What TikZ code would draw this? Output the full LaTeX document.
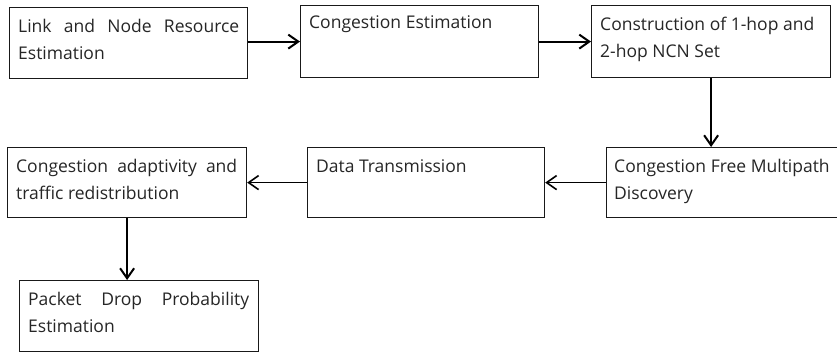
\documentclass[tikz,border=0pt]{standalone}
\usepackage{fontspec}
\setmainfont{Open Sans}
\usetikzlibrary{arrows.meta}
\tikzset{
  box/.style={draw=black!90, line width=1.2pt, fill=white, anchor=north west, inner sep=0pt},
  txt/.style={text=black!85, font=\fontsize{17.5}{27}\selectfont, align=justify, inner sep=0pt, anchor=base west, text width=221pt},
  thickarrow/.style={line width=2pt, -{Straight Barb[length=10pt,width=14pt,line width=2pt]}},
  thinarrow/.style={line width=1pt, -{Straight Barb[length=10pt,width=14pt,line width=1.6pt]}}
}
\begin{document}
\begin{tikzpicture}[x=1pt,y=-1pt]
\useasboundingbox (0,0) rectangle (837,353);
% boxes
\node[box, minimum width=238pt, minimum height=71pt] (b1) at (9,7) {};
\node[box, minimum width=238pt, minimum height=72pt] (b2) at (300,5) {};
\node[box, minimum width=239pt, minimum height=72pt] (b3) at (591,5) {};
\node[box, minimum width=262pt, minimum height=70pt] (b4) at (606,147) {};
\node[box, minimum width=237pt, minimum height=70pt] (b5) at (307,147) {};
\node[box, minimum width=239pt, minimum height=70pt] (b6) at (7,147) {};
\node[box, minimum width=239pt, minimum height=71pt] (b7) at (19,280) {};
% texts
\node[txt] (t1) at ([shift={(9pt,-26pt)}]b1.north west) {Link and Node Resource\linebreak Estimation};
\node[txt] (t2) at ([shift={(9pt,-24pt)}]b2.north west) {Congestion Estimation};
\node[txt] (t3) at ([shift={(9pt,-26pt)}]b3.north west) {Construction of 1-hop and\\2-hop NCN Set};
\node[txt] (t4) at ([shift={(8pt,-25pt)}]b4.north west) {Congestion Free Multipath\\Discovery};
\node[txt] (t5) at ([shift={(9pt,-25pt)}]b5.north west) {Data Transmission};
\node[txt] (t6) at ([shift={(9pt,-25pt)}]b6.north west) {Congestion adaptivity and\linebreak traffic redistribution};
\node[txt] (t7) at ([shift={(9pt,-25pt)}]b7.north west) {Packet Drop Probability\linebreak Estimation};
% connectors
\draw[thickarrow] (b2.west -| b1.east) -- (b2.west);
\draw[thickarrow] (b2.east) -- (b3.west);
\draw[thickarrow] (b3.south) -- (b3.south |- b4.north);
\draw[thinarrow] (b4.west) -- (b4.west -| b5.east);
\draw[thinarrow] (b5.west) -- (b6.east);
\draw[thickarrow] (b6.south) -- (b6.south |- b7.north);
\end{tikzpicture}
\end{document}
